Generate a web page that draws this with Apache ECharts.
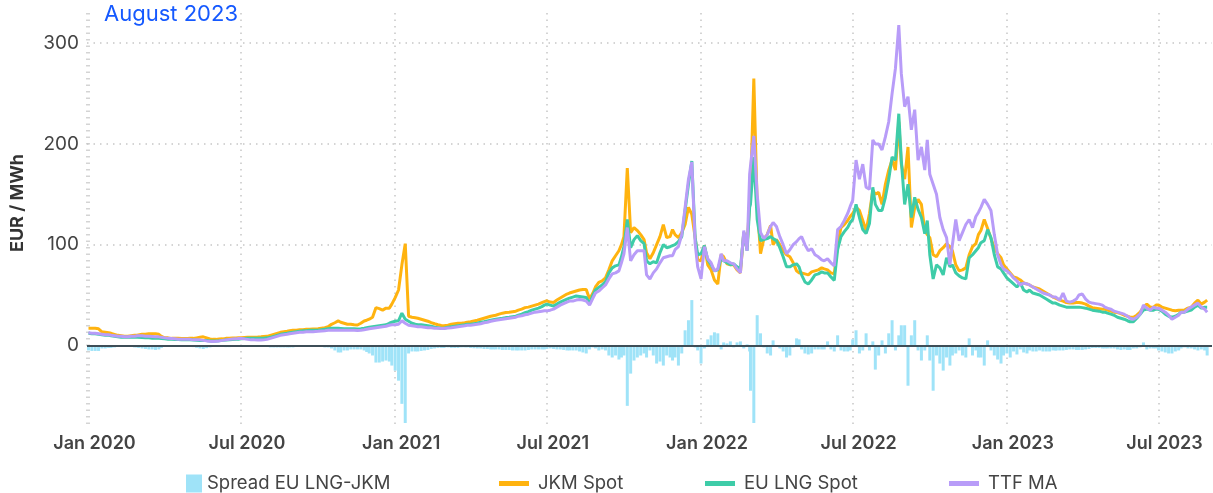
<!DOCTYPE html>
<html>
<head>
<meta charset="utf-8">
<script src="https://cdn.jsdelivr.net/npm/echarts@6/dist/echarts.min.js"></script>
<style>
  html, body { margin: 0; padding: 0; background: #ffffff; }
  #chart { width: 1213px; height: 493px; }
</style>
</head>
<body>
<div id="chart"></div>
<script>
// Observation calendar: 8 readings per month, Jan 2020 .. Aug 2023
const startYear = 2020;
const monthCount = 44;
const slotDays = [1, 5, 9, 13, 17, 21, 25, 28];
const monthNames = ['Jan','Feb','Mar','Apr','May','Jun','Jul','Aug','Sep','Oct','Nov','Dec'];

// JKM spot price, EUR/MWh (one row per month)
const jkmSpot = [
  17, 17, 17, 16.5, 13.5, 13, 12.5, 12,
  11, 10, 9.5, 9, 9, 9.5, 10, 10,
  10.5, 11, 11, 11.5, 11.5, 11.5, 11, 9,
  7.5, 7.5, 7, 7, 7, 6.8, 6.8, 6.8,
  7, 7, 7.5, 8, 8.5, 7.5, 6.5, 6,
  6, 6.3, 6.5, 7, 7.2, 7.3, 7.4, 7.5,
  7.6, 7.8, 8, 8, 8.2, 8.3, 8.5, 8.8,
  9, 10, 11, 12, 13, 13.5, 14, 14.5,
  15, 15, 15.5, 15.5, 16, 16, 16.3, 16.3,
  16.5, 17, 17.5, 18.5, 21, 22.5, 24.3, 23,
  22, 21, 21, 20.5, 20.3, 22, 24.3, 25,
  26, 28, 37.5, 36.5, 35, 37, 37, 41,
  47.5, 55, 80, 101, 29, 28, 27.5, 27,
  26, 25, 24, 22.6, 21.5, 20.5, 19.8, 19.5,
  19.3, 20, 21, 21.6, 22, 22, 22.5, 23,
  23.5, 24.3, 25, 26, 27, 28, 29, 29.5,
  30, 31, 32, 32.6, 33, 33.5, 34, 35,
  36, 37.5, 38, 39, 40, 41, 42.5, 43.5,
  44.3, 43, 42.6, 45, 47, 49, 51, 52,
  53, 54, 55, 55.5, 55.6, 46, 52, 58,
  62.6, 64, 67, 75, 84, 89, 94, 100,
  108, 176, 112, 117, 114, 110, 105, 92,
  86, 92, 100, 108, 120, 107, 108, 115,
  110, 107, 112, 120, 137, 130, 107, 85,
  84, 99, 80, 75, 65, 61, 90, 88,
  81, 80, 80, 75, 72, 112, 98, 143,
  150, 265, 140, 91, 106, 110, 119, 100,
  105, 100, 94, 90, 88, 82, 74, 72,
  72, 71, 70, 73, 74, 75, 77, 76,
  75, 72, 71, 100, 117, 120, 124, 128,
  131, 137, 134, 124, 114, 131, 154, 150,
  152, 140, 160, 174, 184, 174, 222, 180,
  165, 197, 117, 137, 145, 140, 114, 110,
  107, 90, 88, 94, 97, 101, 98, 94,
  80, 74, 75, 77, 90, 98, 101, 110,
  114, 125, 116, 106, 97, 91, 87, 80,
  76, 72, 68, 67, 65, 62, 61, 60,
  58, 57, 56, 54, 52, 50, 48, 47,
  46, 45, 44, 42.5, 42, 42, 42.5, 42.5,
  42, 41, 39, 37.5, 37, 36.5, 36, 36,
  35, 34, 33, 32.6, 31.5, 30, 29, 28,
  28, 30, 33, 38, 41, 38, 38, 40,
  40, 38, 37, 36, 35, 34.5, 35, 35,
  35, 37, 38, 42, 45, 41, 43, 45
];

// EU LNG spot price, EUR/MWh
const euLngSpot = [
  12, 11.5, 11.5, 11, 10.5, 10, 10, 9.5,
  9, 8.5, 8, 8, 8, 8, 8, 8,
  8, 7.8, 7.5, 7.5, 7.2, 7, 7, 6.8,
  6.5, 6.2, 6, 5.8, 5.8, 5.6, 5.5, 5.5,
  5.5, 5.3, 5.2, 5, 5, 4.8, 4.5, 4.5,
  4.5, 4.7, 5, 5.3, 5.5, 5.8, 6, 6.2,
  6.5, 6.8, 7, 7, 7, 7, 7, 7.2,
  7.5, 8, 9, 10, 11, 11.5, 12, 12.5,
  13, 13.5, 14, 14.5, 14.5, 15, 15, 15,
  15, 15.5, 16, 16.5, 17, 17, 17, 16.8,
  16.5, 16.5, 16.5, 16.5, 16.3, 16.5, 17, 17.5,
  18, 18.5, 19, 19.5, 20, 20.5, 22, 23,
  24, 24.5, 32, 26, 24, 22, 21, 20.5,
  20.5, 20, 19.5, 19, 18, 17.5, 17, 17,
  17.5, 18, 18.5, 19, 19.5, 20, 20.5, 21,
  21, 21.5, 22, 23, 23.5, 24.3, 25, 25.5,
  26, 26.5, 27, 27.6, 28, 28.5, 29, 30,
  31, 32.5, 33.5, 35, 36, 37, 38.5, 40,
  41, 40, 39, 41, 43, 44.5, 46, 47,
  48, 49, 48.5, 48, 47.5, 41.6, 50, 55,
  57.6, 60, 63, 72, 77, 79, 80, 88,
  98, 125, 97, 105, 109, 104, 101, 84,
  81, 83, 82, 92, 100, 97, 98, 99,
  100, 103, 108, 134, 160, 183, 107, 90,
  91, 99, 85, 80, 74, 75, 87, 84,
  82, 80, 81, 78, 76, 112, 94, 137,
  140, 187, 125, 104, 105, 106, 108, 106,
  104, 97, 88, 78, 78, 80, 81, 78,
  70, 63, 61, 65, 70, 71, 73, 72,
  72, 68, 64.6, 95, 108, 113, 117, 122,
  125, 140, 127, 115, 111, 121, 157, 140,
  134, 134, 147, 165, 187, 184, 230, 184,
  140, 160, 127, 147, 135, 127, 111, 124,
  90, 66, 80, 77, 70, 87, 78, 80,
  72, 69, 67, 66, 87, 90, 94, 97,
  102, 104, 115, 107, 90, 78, 76, 72,
  67, 64, 61, 58, 62, 55, 53, 55,
  52, 51, 50, 48, 46, 44, 42, 42,
  41, 40, 39, 38, 38, 38, 38, 38,
  37.5, 37, 36, 35, 34.5, 34, 33, 33,
  32, 31, 30, 28, 27, 26, 24.5, 23.5,
  23.5, 27, 31, 35, 36, 35, 35, 36,
  36, 34, 31, 29, 28, 29, 31, 33,
  33, 34, 35, 38, 40, 37, 38, 38
];

// TTF moving average, EUR/MWh
const ttfMa = [
  12.5, 12, 12, 11.5, 11, 10.5, 10.5, 10,
  9.5, 9, 9, 8.5, 8.5, 9, 9, 9.5,
  9.5, 9.5, 9, 9, 8.8, 8.5, 8.5, 8,
  7.5, 7, 6.8, 6.5, 6.2, 6, 6, 6,
  6, 5.5, 5.5, 5.5, 5, 4.5, 4.2, 4,
  4.2, 4.5, 5, 5.5, 6, 6.3, 6.5, 6.8,
  6.8, 6.5, 6, 5.5, 5.5, 5.3, 5.3, 5.5,
  6, 7, 8, 9, 10, 10.5, 11, 11.5,
  12, 12.5, 13, 13, 13.5, 13.5, 13.6, 13.8,
  14, 14.3, 14.6, 15, 15, 15, 15, 15,
  15, 15, 15, 15, 14.8, 15, 15.5, 16,
  16.5, 17, 17.5, 18, 18.5, 19, 20, 20.5,
  20.5, 21, 24.5, 22, 20, 19.5, 19, 18.5,
  18.5, 18, 17.5, 17.5, 17, 17, 16.8, 16.8,
  17, 17.2, 17.5, 18, 18.5, 19, 19.5, 20,
  20, 20.5, 21, 21.5, 22.5, 23, 24, 24.5,
  25, 25.5, 26, 26.5, 27, 27.5, 28, 29,
  29.5, 30.5, 31, 32, 33, 33.5, 34, 34.3,
  34.3, 35, 36, 38, 40, 41.5, 43, 44,
  44, 45, 45.5, 45, 44, 40, 47, 52,
  54, 57, 60, 66, 71, 72, 74, 82,
  91, 117, 84, 90, 94, 94, 94, 70,
  66, 72, 76, 82, 87, 88, 89, 89,
  95, 98, 110, 137, 165, 182, 101, 78,
  66, 98, 86, 82, 74, 76, 91, 84,
  84, 82, 81, 76, 72, 114, 94, 170,
  178, 208, 150, 112, 106, 110, 118, 122,
  118, 108, 100, 91, 95, 100, 103, 106,
  108, 100, 94, 96, 90, 88, 85, 84,
  86, 82, 79, 115, 118, 124, 131, 138,
  144, 184, 165, 180, 157, 155, 204, 200,
  200, 194, 207, 222, 250, 275, 318, 270,
  237, 247, 214, 234, 184, 197, 174, 204,
  170, 160, 150, 127, 115, 107, 80, 100,
  125, 104, 112, 120, 125, 117, 128, 132,
  137, 145, 140, 134, 110, 90, 80, 76,
  74, 71, 67, 64, 60, 62, 61, 60,
  58, 56, 54, 52, 51, 50, 48, 48,
  47, 45, 52, 44, 43, 44, 46, 50,
  51, 46, 43, 42, 41.5, 41, 40, 38,
  37, 36, 34, 33, 32, 31, 29, 27,
  26, 28, 31, 40, 37, 35, 38, 37,
  37, 35, 33, 30, 26, 28, 30, 33,
  33, 36, 38, 40, 42, 38, 36, 33
];

// Spread EU LNG minus JKM, EUR/MWh
const spreadEuJkm = [
  -5, -5.5, -5.5, -5.5, -3, -3, -2.5, -2.5,
  -2, -1.5, -1.5, -1, -1, -1.5, -2, -2,
  -2.5, -3, -3.5, -4, -4, -4.5, -4, -2.5,
  -1, -1.2, -1, -1.2, -1.2, -1.2, -1.3, -1.3,
  -1.5, -1.7, -2.3, -3, -3.5, -2.7, -2, -1.5,
  -1.5, -1.6, -1.5, -1.7, -1.7, -1.5, -1.4, -1.3,
  -1, -1, -1, -1, -1.2, -1.3, -1.5, -1.6,
  -1.5, -2, -2, -2, -2, -2, -2, -2,
  -2, -1.5, -1.5, -1, -1.5, -1, -1.3, -1.3,
  -1.5, -1.5, -2, -2, -3, -5, -7, -7,
  -5, -5, -4, -4, -4, -4, -5, -6.5,
  -8, -10, -17, -17, -16, -15, -16, -20,
  -25, -35, -58, -77, -8, -6, -6, -6,
  -5.5, -5, -4.5, -3.5, -3, -2.5, -2.5, -2.5,
  -2, -2, -2.5, -2.5, -2.5, -2, -2, -2,
  -2.5, -2.8, -3, -3, -3.5, -3.5, -4, -4,
  -4, -4, -4.5, -4.5, -4.5, -5, -5, -5,
  -5, -5, -4.5, -4, -4, -4, -4, -4,
  -3.5, -3, -3.5, -4, -4, -4.5, -5, -5,
  -5, -5, -6, -7, -8, -4, -2, -3,
  -5, -4, -5, -10, -12, -10, -14, -12,
  -10, -60, -28, -15, -12, -10, -8, -12,
  -5, -10, -18, -16, -20, -10, -12, -15,
  -12, -20, -8, 15, 25, 45, -2, -5,
  -18, -3, 6, 10, 13, 12, -4, 3,
  2, 4, -2, 3, 4, -3, 1, -6,
  -45, -77, 30, 12, -2, -8, -10, 5,
  -1, -3, -6, -12, -10, -2, 7, 6,
  -4, -8, -9, -8, -4, -4, -4, -4,
  4, -4, -6, 10, -5, -6, -6, -5,
  6, 15, -8, -5, 12, -5, 4, -24,
  -10, 5, -8, 12, 25, -5, 10, 20,
  20, -40, 10, 25, -5, -15, -5, 10,
  -15, -45, -10, -18, -25, -12, -20, -10,
  -8, -5, -10, -12, 7, -10, -5, -12,
  -12, -20, 5, -5, -10, -14, -18, -10,
  -8, -12, -6, -9, -4, -7, -8, -5,
  -6, -6, -5, -6, -6, -6, -5, -5,
  -5, -5, -5, -4.5, -4, -4, -4.5, -4.5,
  -4.5, -4, -3.5, -2.5, -2.5, -2.5, -3, -3,
  -3, -3, -3, -4, -4.5, -4, -4.5, -4.5,
  -3, -3, -2, 3, -4, -3, -3, -3,
  -5, -6, -7, -8, -8, -6, -5, -3,
  -2, -3, -3, -4, -5, -4, -5, -10
];

// Calendar dates for every reading
const dates = [];
for (let m = 0; m < monthCount; m++) {
  const y = startYear + Math.floor(m / 12);
  const mo = String(m % 12 + 1).padStart(2, '0');
  for (const d of slotDays) dates.push(`${y}-${mo}-${String(d).padStart(2, '0')}`);
}
const withDates = values => values.map((v, i) => [dates[i], v]);

const font = 'Inter, "Noto Sans", sans-serif';
const dotted = { color: '#c6c6c6', width: 1.5, type: [1.5, 5] };
const colors = { spread: '#9fe3f8', jkm: '#ffb30f', eu: '#3ecca8', ttf: '#b89cf8' };

const legendBase = {
  padding: 0, itemGap: 0, icon: 'rect', selectedMode: false,
  textStyle: { fontSize: 18.5, color: '#444', fontFamily: font }
};
const lineLegendText = { fontSize: 18.5, color: '#444', fontFamily: font, padding: [0, 0, 0, 4] };

const chart = echarts.init(document.getElementById('chart'), null, { renderer: 'canvas' });
chart.setOption({
  animation: false,
  textStyle: { fontFamily: font },
  title: {
    text: 'August 2023', left: 104, top: 3, padding: 0,
    textStyle: { color: '#1559ff', fontSize: 22, fontWeight: 'normal', fontFamily: font }
  },
  grid: { left: 87, right: 1, top: 13, bottom: 67 },
  xAxis: {
    type: 'time', min: '2020-01-01', max: '2023-09-01',
    axisLine: { show: false }, axisTick: { show: false },
    splitLine: { show: true, showMaxLine: false, lineStyle: dotted },
    axisLabel: {
      fontSize: 18, fontWeight: 600, color: '#444', margin: 9, fontFamily: font,
      padding: [0, 0, 0, 12], showMaxLabel: false, hideOverlap: false,
      formatter: v => { const d = new Date(v); return monthNames[d.getMonth()] + ' ' + d.getFullYear(); }
    }
  },
  yAxis: {
    type: 'value', min: -80, max: 330,
    name: 'EUR / MWh', nameLocation: 'middle', nameRotate: 90, nameGap: 60,
    nameTextStyle: { fontSize: 18, fontWeight: 'bold', color: '#333', fontFamily: font, padding: [0, 0, 0, 33] },
    axisLine: { show: false }, axisTick: { show: false },
    axisLabel: { fontSize: 19, color: '#444', margin: 8, showMinLabel: false, showMaxLabel: false, fontFamily: font },
    splitLine: { show: true, showMinLine: false, showMaxLine: false, lineStyle: dotted }
  },
  legend: [
    Object.assign({}, legendBase, { data: ['Spread EU LNG-JKM'], left: 186, top: 474, itemWidth: 16, itemHeight: 18 }),
    Object.assign({}, legendBase, { data: ['JKM Spot'], left: 499, top: 474, itemWidth: 30, itemHeight: 5, textStyle: lineLegendText }),
    Object.assign({}, legendBase, { data: ['EU LNG Spot'], left: 705, top: 474, itemWidth: 30, itemHeight: 5, textStyle: lineLegendText }),
    Object.assign({}, legendBase, { data: ['TTF MA'], left: 949, top: 474, itemWidth: 30, itemHeight: 5, textStyle: lineLegendText })
  ],
  series: [
    {
      name: 'Spread EU LNG-JKM', type: 'bar', barWidth: 3,
      itemStyle: { color: colors.spread },
      data: withDates(spreadEuJkm),
      markLine: {
        silent: true, symbol: ['none', 'none'], label: { show: false },
        lineStyle: { color: '#3e4e57', width: 2, type: 'solid' },
        data: [{ yAxis: 0 }]
      }
    },
    {
      name: 'JKM Spot', type: 'line', showSymbol: false, symbol: 'none',
      lineStyle: { color: colors.jkm, width: 3 }, itemStyle: { color: colors.jkm },
      data: withDates(jkmSpot)
    },
    {
      name: 'EU LNG Spot', type: 'line', showSymbol: false, symbol: 'none',
      lineStyle: { color: colors.eu, width: 3 }, itemStyle: { color: colors.eu },
      data: withDates(euLngSpot)
    },
    {
      name: 'TTF MA', type: 'line', showSymbol: false, symbol: 'none',
      lineStyle: { color: colors.ttf, width: 3 }, itemStyle: { color: colors.ttf },
      data: withDates(ttfMa)
    }
  ]
});
</script>
</body>
</html>
